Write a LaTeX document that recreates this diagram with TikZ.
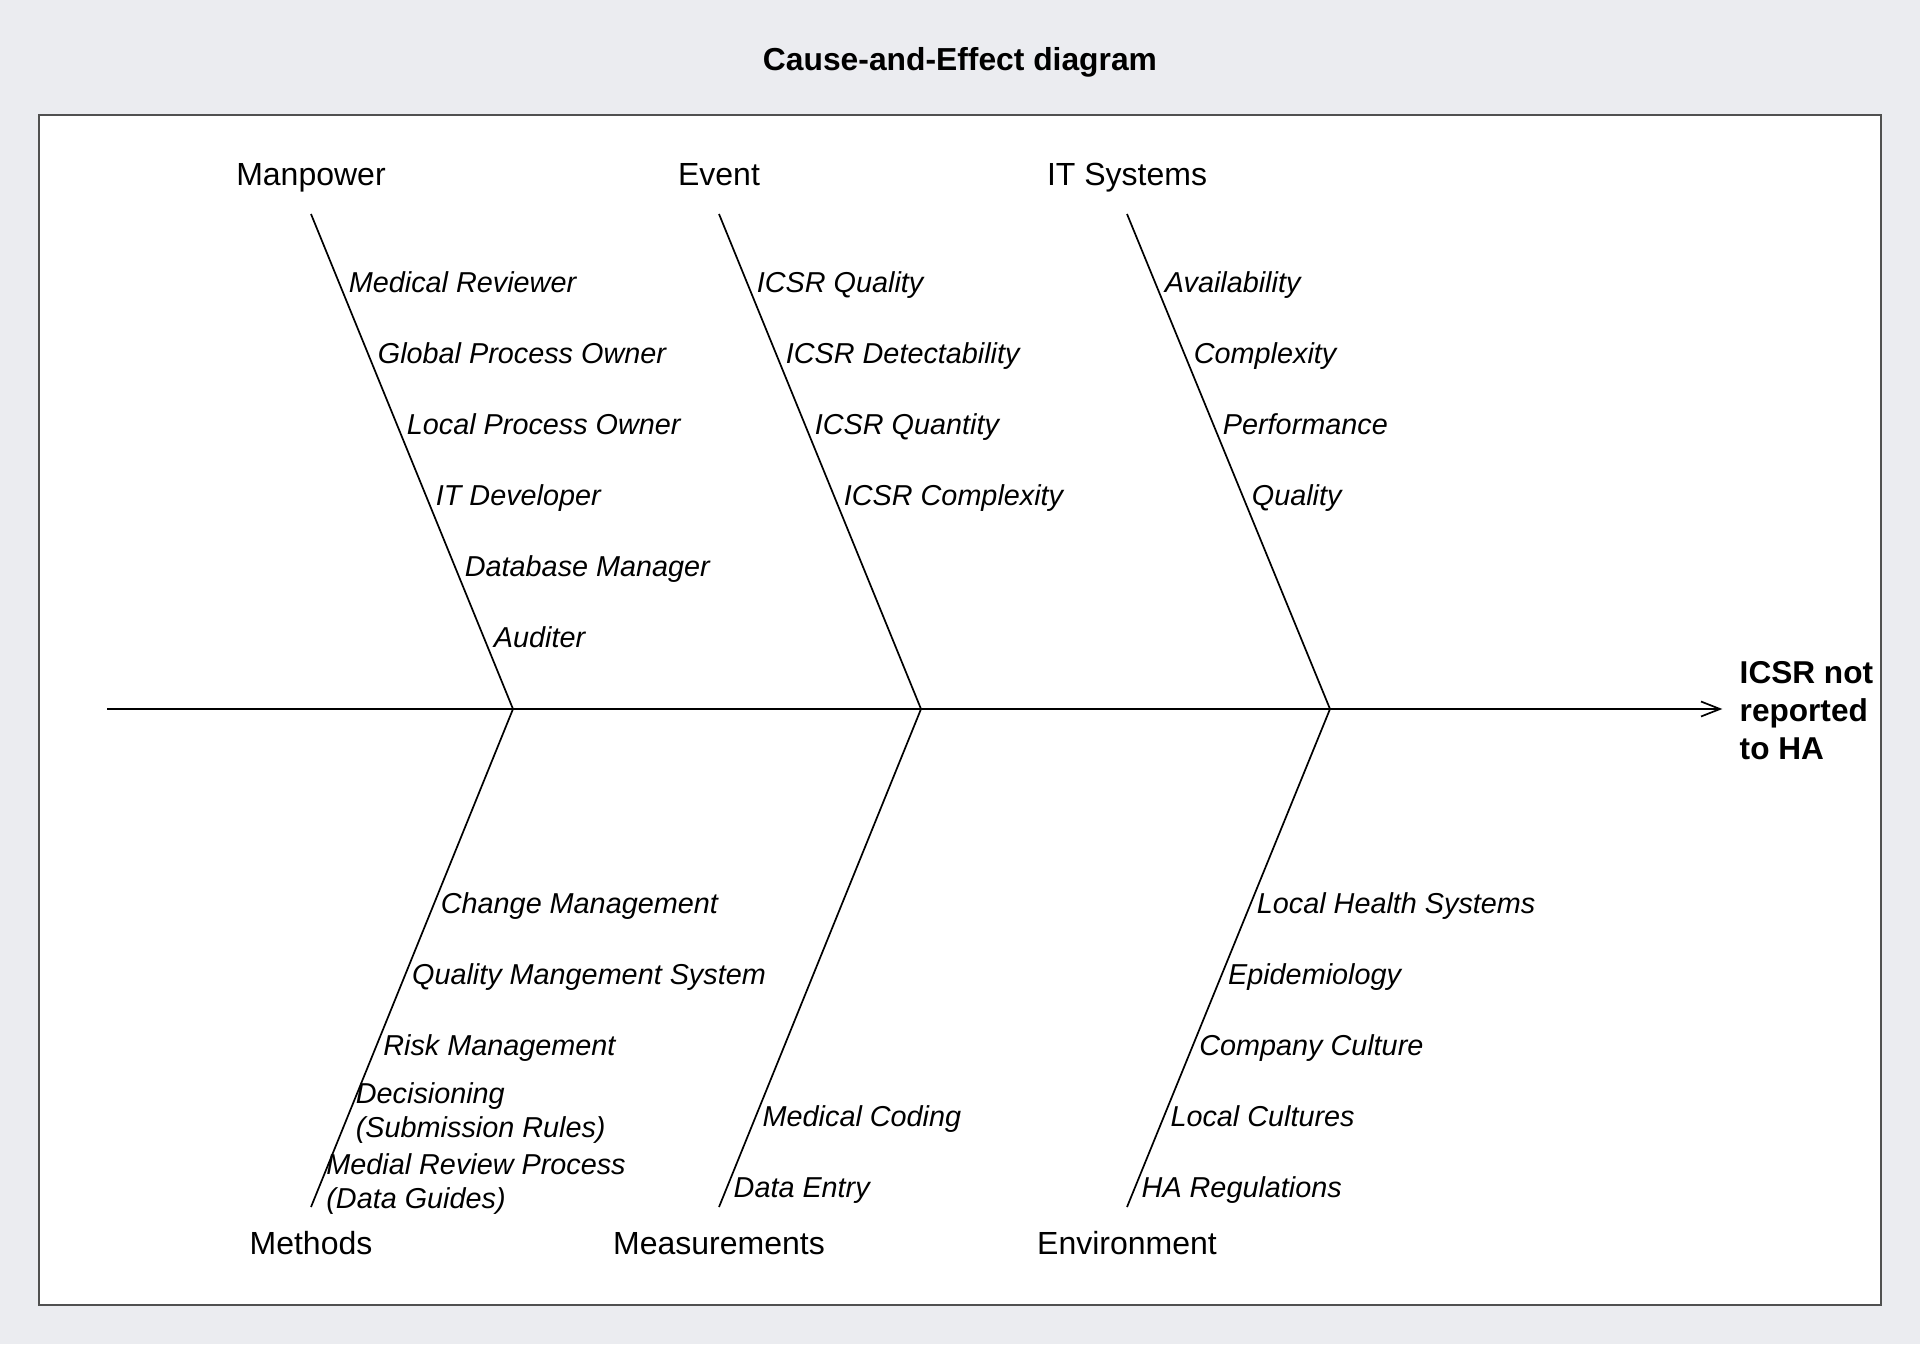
\documentclass[tikz,border=0pt]{standalone}
\usepackage{fontspec}
\setmainfont{Liberation Sans}
\usetikzlibrary{arrows.meta}
\definecolor{bgc}{RGB}{235,236,240}
\definecolor{framec}{RGB}{80,80,80}
\tikzset{
  cat/.style={font=\fontsize{16}{18}\selectfont, inner sep=0pt, anchor=base},
  sub/.style={font=\fontsize{14.4}{17}\selectfont\itshape, inner sep=0pt, anchor=base west},
  bone/.style={line width=0.85pt, black},
}
\begin{document}
\begin{tikzpicture}[x=0.5pt,y=-0.5pt]
\fill[bgc] (0,0) rectangle (1920,1344);
\path[use as bounding box] (0,0) rectangle (1920,1344);
\filldraw[fill=white, draw=framec, line width=0.6pt] (39,115) rectangle (1881,1305);

\node[font=\fontsize{15.9}{19}\selectfont\bfseries, inner sep=0pt, anchor=base] (title) at (960,70) {Cause-and-Effect diagram};

% effect
\node[font=\fontsize{15.8}{19}\selectfont\bfseries, inner xsep=8.5pt, inner ysep=0pt, anchor=base west] (effect) at (1722.3,683.3)
  {\begin{tabular}[t]{@{}l@{}}ICSR not\\reported\\to HA\end{tabular}};

% skeleton coordinates
\coordinate (tail) at (107,709);
\coordinate (J1) at (513,709);
\coordinate (J2) at (921,709);
\coordinate (J3) at (1330,709);
\coordinate (T1) at (311,214);
\coordinate (T2) at (719,214);
\coordinate (T3) at (1127,214);
\coordinate (B1) at (311,1207);
\coordinate (B2) at (719,1207);
\coordinate (B3) at (1127,1207);

\draw[bone, -{Straight Barb[length=9.5pt,width=7.5pt]}] (tail) -- (tail -| effect.west);
\draw[bone] (T1) -- (J1) -- (B1);
\draw[bone] (T2) -- (J2) -- (B2);
\draw[bone] (T3) -- (J3) -- (B3);

% category labels
\node[cat] (manpower) at (311,185.2) {Manpower};
\node[cat] (event) at (719,185.2) {Event};
\node[cat] (itsys) at (1127,185.2) {IT Systems};
\node[cat] (methods) at (311,1254.5) {Methods};
\node[cat] (measure) at (719,1254.5) {Measurements};
\node[cat] (environ) at (1127,1254.5) {Environment};

% Manpower
\node[sub] (mp1) at (348.5,292.5) {Medical Reviewer};
\node[sub] (mp2) at (377.5,363.5) {Global Process Owner};
\node[sub] (mp3) at (406.5,434.5) {Local Process Owner};
\node[sub] (mp4) at (435.5,505.5) {IT Developer};
\node[sub] (mp5) at (464.5,576.5) {Database Manager};
\node[sub] (mp6) at (493.5,647.5) {Auditer};

% Event
\node[sub] (ev1) at (756.5,292.5) {ICSR Quality};
\node[sub] (ev2) at (785.5,363.5) {ICSR Detectability};
\node[sub] (ev3) at (814.5,434.5) {ICSR Quantity};
\node[sub] (ev4) at (843.5,505.5) {ICSR Complexity};

% IT Systems
\node[sub] (it1) at (1164.5,292.5) {Availability};
\node[sub] (it2) at (1193.5,363.5) {Complexity};
\node[sub] (it3) at (1222.5,434.5) {Performance};
\node[sub] (it4) at (1251.5,505.5) {Quality};

% Methods
\node[sub] (mt1) at (440.5,913) {Change Management};
\node[sub] (mt2) at (411.7,984) {Quality Mangement System};
\node[sub] (mt3) at (383,1055) {Risk Management};
\node[sub] (mt4) at (355.5,1103) {\begin{tabular}[t]{@{}l@{}}Decisioning\\(Submission Rules)\end{tabular}};
\node[sub] (mt5) at (326,1174) {\begin{tabular}[t]{@{}l@{}}Medial Review Process\\(Data Guides)\end{tabular}};

% Measurements
\node[sub] (ms1) at (762.3,1126) {Medical Coding};
\node[sub] (ms2) at (733.3,1197) {Data Entry};

% Environment
\node[sub] (en1) at (1256.5,913) {Local Health Systems};
\node[sub] (en2) at (1227.7,984) {Epidemiology};
\node[sub] (en3) at (1198.9,1055) {Company Culture};
\node[sub] (en4) at (1170.1,1126) {Local Cultures};
\node[sub] (en5) at (1141.3,1197) {HA Regulations};
\end{tikzpicture}
\end{document}
